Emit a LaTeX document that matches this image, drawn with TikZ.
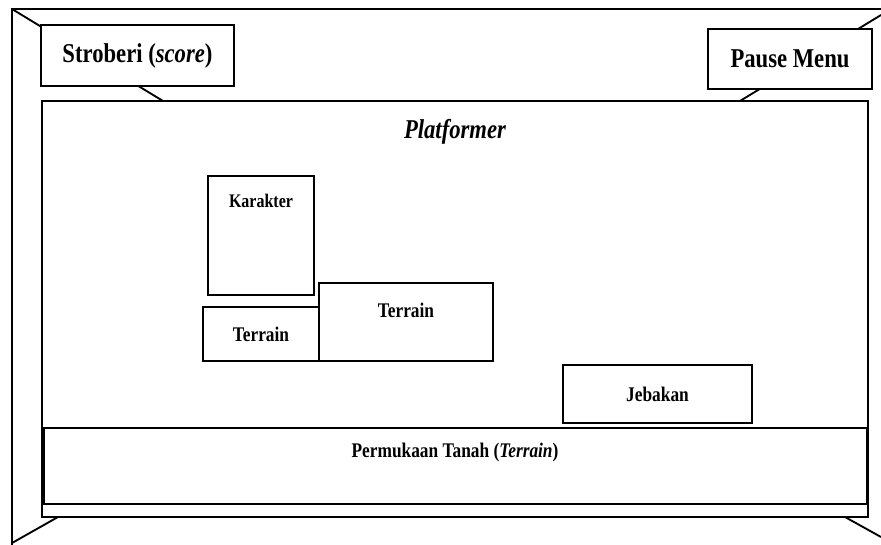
\documentclass[tikz,border=0pt]{standalone}
\usepackage{fontspec}
\setmainfont{Liberation Serif}
\usepackage{graphicx}
\usepackage{tikz}

\newcommand{\tallText}[1]{\scalebox{1}[1.2]{#1}}

\tikzset{
    frameline/.style={line width=1.4pt},
    box/.style={draw, line width=1.4pt, fill=white, inner sep=0pt},
    bigtext/.style={font=\fontsize{17}{20}\selectfont\bfseries},
    smalltext/.style={font=\fontsize{13}{15}\selectfont\bfseries}
}

\begin{document}
\begin{tikzpicture}[x=0.75pt, y=-0.75pt]
        \useasboundingbox (0,0) rectangle (881,545);

        \coordinate (outerTL) at (12,9);
        \coordinate (outerTR) at (881,9);
        \coordinate (outerBL) at (12,545);
        \coordinate (cornerTR) at (881,15);
        \coordinate (cornerBL) at (12,543);
        \coordinate (cornerBR) at (881,537);

        \draw[frameline] (outerBL) -- (outerTL) -- (outerTR);

        \node[box, minimum width=619.5pt, minimum height=312pt] (Platformer) at (455,309) {};
        \node[bigtext] at (455,132) {\tallText{\itshape Platformer}};

        \coordinate (edgeTL) at (163,101);
        \coordinate (edgeTR) at (740,101);
        \coordinate (edgeBL) at (58,517);
        \coordinate (edgeBR) at (845,517);
        \draw[frameline] (outerTL) -- (edgeTL);
        \draw[frameline] (cornerTR) -- (edgeTR);
        \draw[frameline] (cornerBL) -- (edgeBL);
        \draw[frameline] (edgeBR) -- (cornerBR);

        \node[box, bigtext, minimum width=144.75pt, minimum height=45.75pt] (Stroberi) at (137.5,55.5) {\tallText{Stroberi (\textit{score})}};
        \node[box, bigtext, minimum width=123pt, minimum height=45pt] (PauseMenu) at (790,59) {\tallText{Pause Menu}};

        \node[box, minimum width=79.5pt, minimum height=89.25pt] (Karakter) at (261,235.5) {};
        \node[font=\fontsize{12}{14}\selectfont\bfseries] at (261,201) {\tallText{Karakter}};
        \node[box, smalltext, minimum width=87pt, minimum height=40.5pt] (TerrainKiri) at (261,334) {\tallText{Terrain}};
        \node[box, minimum width=130.5pt, minimum height=58.5pt] (TerrainKanan) at (406,322) {};
        \node[smalltext] at (406,310) {\tallText{Terrain}};
        \node[box, smalltext, minimum width=141.75pt, minimum height=43.5pt] (Jebakan) at (657.5,394) {\tallText{Jebakan}};

        \node[box, minimum width=617.25pt, minimum height=57pt] (Permukaan) at (455.5,466) {};
        \node[smalltext] at (455,452) {\tallText{Permukaan Tanah (\textit{Terrain})}};
    \end{tikzpicture}
\end{document}
